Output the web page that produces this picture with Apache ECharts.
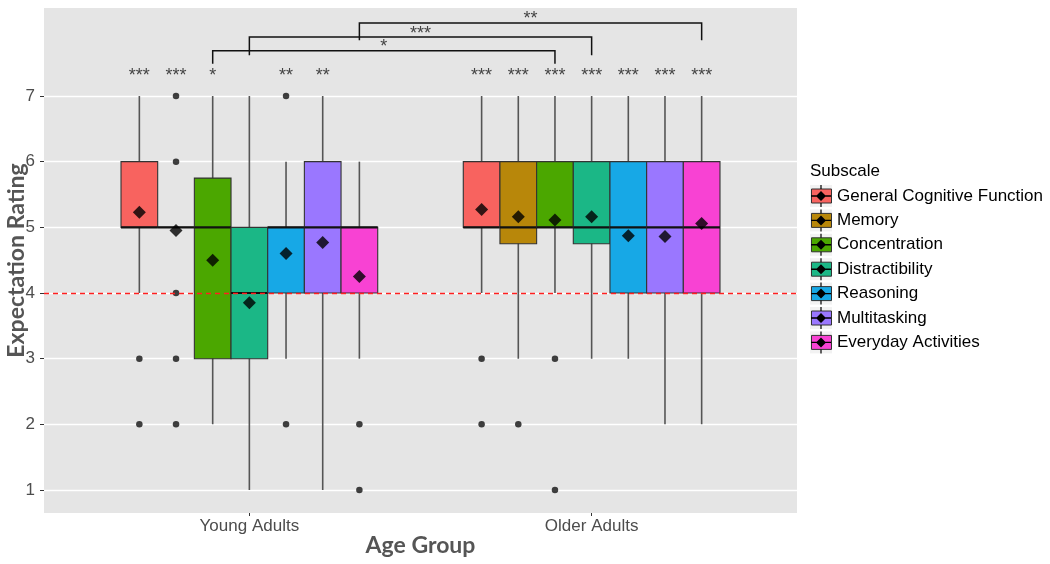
<!DOCTYPE html>
<html><head><meta charset="utf-8">
<script src="https://cdn.jsdelivr.net/npm/echarts@6/dist/echarts.min.js"></script>
<style>html,body{margin:0;padding:0;background:#fff}#c{width:1050px;height:564px}</style>
</head><body><div id="c"></div>
<script>
// ---------- data ----------
const groups = ['Young Adults', 'Older Adults'];
const subscales = ['General Cognitive Function', 'Memory', 'Concentration', 'Distractibility', 'Reasoning', 'Multitasking', 'Everyday Activities'];
// [lower whisker, Q1, median, Q3, upper whisker]
const youngBox = [[4,5,5,6,7],[5,5,5,5,5],[2,3,5,5.75,7],[1,3,4,5,7],[3,4,5,5,6],[1,4,5,6,7],[3,4,5,5,6]];
const olderBox = [[4,5,5,6,7],[3,4.75,5,6,7],[4,5,5,6,7],[3,4.75,5,6,7],[3,4,5,6,7],[2,4,5,6,7],[2,4,5,6,7]];
const youngMean = [5.23, 4.95, 4.50, 3.85, 4.60, 4.77, 4.25];
const olderMean = [5.27, 5.16, 5.11, 5.16, 4.87, 4.86, 5.06];
const youngOutliers = [[3,2],[7,6,4,3,2],[],[],[7,2],[],[2,1]];
const olderOutliers = [[3,2],[2],[3,1],[],[],[],[]];
const youngSig = ['***','***','*','','**','**',''];
const olderSig = ['***','***','***','***','***','***','***'];
// young vs older comparison for a subscale index, with its label
const comparisons = [[2,'*'],[3,'***'],[6,'**']];
const yTicks = [1,2,3,4,5,6,7];
const refValue = 4;

// ---------- layout / style ----------
const colors = ['#F8635F','#B8870A','#4BA700','#1BB786','#17A8E6','#9A77FF','#F842D3'];
const dodge = 0.75 / 7;
const sigY = 7.30;
const bracketLayout = [{top:7.69, leg:7.49, label:7.74},{top:7.90, leg:7.62, label:7.95},{top:8.11, leg:7.85, label:8.17}];
const xpos = (gi, k) => gi + 1 + (k - 3) * dodge;
const FONT = 'Liberation Sans';

const series = [];
subscales.forEach((name, k) => {
  series.push({
    type: 'custom', name: name, itemStyle: {color: colors[k]}, z: 2,
    data: groups.map((g, gi) => [xpos(gi, k)].concat(gi ? olderBox[k] : youngBox[k])),
    encode: {x: 0, y: [1,2,3,4,5]},
    renderItem: (params, api) => {
      const x = api.value(0);
      const w = api.size([dodge, 0])[0];
      const P = i => api.coord([x, api.value(i)]);
      const lo = P(1), q1 = P(2), md = P(3), q3 = P(4), hi = P(5);
      const cx = lo[0];
      return {type: 'group', children: [
        {type: 'line', shape: {x1: cx, y1: hi[1], x2: cx, y2: lo[1]}, style: {stroke: '#555', lineWidth: 1.6}},
        {type: 'rect', shape: {x: cx - w/2, y: q3[1], width: w, height: q1[1] - q3[1]},
         style: {fill: colors[k], stroke: '#333', lineWidth: 1.1}},
        {type: 'line', shape: {x1: cx - w/2, y1: md[1], x2: cx + w/2, y2: md[1]}, style: {stroke: '#111', lineWidth: 2.2}}
      ]};
    }
  });
});

// outliers
const outlierData = [];
subscales.forEach((n, k) => {
  youngOutliers[k].forEach(v => outlierData.push([xpos(0, k), v]));
  olderOutliers[k].forEach(v => outlierData.push([xpos(1, k), v]));
});
series.push({
  type: 'scatter', name: 'outliers', data: outlierData, symbol: 'circle', symbolSize: 6.5,
  itemStyle: {color: '#111'}, z: 3, silent: true,
  markLine: {silent: true, symbol: ['none','none'], label: {show: false},
    lineStyle: {color: '#FF2020', type: [5,4], width: 1.3}, data: [{yAxis: refValue}]}
});

// means
const meanData = [];
subscales.forEach((n, k) => {
  meanData.push([xpos(0, k), youngMean[k]]);
  meanData.push([xpos(1, k), olderMean[k]]);
});
series.push({type: 'scatter', name: 'mean', data: meanData, symbol: 'diamond', symbolSize: 13,
  itemStyle: {color: '#000'}, z: 4, silent: true});

// significance labels
const sigData = [], sigText = [];
subscales.forEach((n, k) => {
  [youngSig, olderSig].forEach((arr, gi) => {
    if (arr[k]) { sigData.push([xpos(gi, k), sigY]); sigText.push(arr[k]); }
  });
});
series.push({type: 'custom', name: 'sig', data: sigData, silent: true, z: 5,
  renderItem: (params, api) => {
    const p = api.coord([api.value(0), api.value(1)]);
    return {type: 'text', x: p[0], y: p[1], style: {text: sigText[params.dataIndex], textAlign: 'center',
      textVerticalAlign: 'middle', fontSize: 18, fontFamily: FONT, fill: '#444'}};
  }});

// brackets
series.push({type: 'custom', name: 'brackets', silent: true, z: 5,
  data: comparisons.map((c, i) => [xpos(0, c[0]), xpos(1, c[0]), i]),
  renderItem: (params, api) => {
    const L = bracketLayout[api.value(2)];
    const x1 = api.value(0), x2 = api.value(1);
    const a = api.coord([x1, L.leg]), b = api.coord([x1, L.top]), c = api.coord([x2, L.top]), d = api.coord([x2, L.leg]);
    const t = api.coord([(x1 + x2) / 2, L.label]);
    return {type: 'group', children: [
      {type: 'polyline', shape: {points: [a, b, c, d]}, style: {stroke: '#111', lineWidth: 1.5, fill: null}},
      {type: 'text', x: t[0], y: t[1], style: {text: comparisons[params.dataIndex][1], textAlign: 'center',
        textVerticalAlign: 'middle', fontSize: 18, fontFamily: FONT, fill: '#444'}}
    ]};
  }});

const legendBase = {orient: 'vertical', left: 810, top: 184, padding: 0, itemGap: 0.4, selectedMode: false,
  data: subscales, textStyle: {fontSize: 17, fontFamily: FONT, color: '#000', lineHeight: 24}};

const option = {
  animation: false,
  title: {text: 'Subscale', left: 810, top: 163, padding: 0,
    textStyle: {fontSize: 17, fontWeight: 'normal', fontFamily: FONT, color: '#000'}},
  grid: {left: 44, right: 253, top: 8, bottom: 51, show: true, backgroundColor: '#E5E5E5', borderWidth: 0,
    outerBoundsMode: 'none'},
  xAxis: {type: 'value', min: 0.4, max: 2.6,
    name: 'Age Group', nameLocation: 'middle', nameGap: 21, nameMoveOverlap: false,
    nameTextStyle: {fontSize: 23, fontWeight: 'bold', fontFamily: 'Lato', color: '#555'},
    axisLine: {show: false}, splitLine: {show: false},
    axisTick: {show: true, length: 3, customValues: [1, 2], lineStyle: {color: '#333'}},
    axisLabel: {customValues: [1, 2], margin: 5, fontSize: 17, fontFamily: FONT, color: '#4d4d4d',
      formatter: v => groups[Math.round(v) - 1]}},
  yAxis: {type: 'value', min: 0.65, max: 8.34,
    name: 'Expectation Rating', nameLocation: 'middle', nameGap: 16, nameMoveOverlap: false,
    nameTextStyle: {fontSize: 23, fontWeight: 'bold', fontFamily: 'Lato', color: '#555'},
    axisLine: {show: false},
    axisTick: {show: true, length: 4, customValues: yTicks, lineStyle: {color: '#333'}},
    axisLabel: {customValues: yTicks, margin: 9, fontSize: 17, fontFamily: FONT, color: '#4d4d4d'},
    splitLine: {show: true, lineStyle: {color: '#FFFFFF', width: 1.4}}},
  legend: [
    Object.assign({}, legendBase, {z: 4, icon: 'rect', itemWidth: 22, itemHeight: 22,
      itemStyle: {color: '#F2F2F2', borderWidth: 0}}),
    Object.assign({}, legendBase, {z: 5, left: 811, icon: 'rect', itemWidth: 20, itemHeight: 14,
      itemStyle: {borderColor: '#333', borderWidth: 1}, formatter: () => ' '}),
    Object.assign({}, legendBase, {z: 6, left: 811, itemWidth: 20, itemHeight: 22,
      icon: 'path://M9.4,0H10.6V4H9.4Z M9.4,18H10.6V22H9.4Z M0,10.3H20V11.7H0Z M10,6L15,11L10,16L5,11Z',
      itemStyle: {color: '#000', borderWidth: 0}, formatter: () => ' '})
  ],
  series: series
};
const chart = echarts.init(document.getElementById('c'), null, {renderer: 'canvas'});
chart.setOption(option);
</script></body></html>
